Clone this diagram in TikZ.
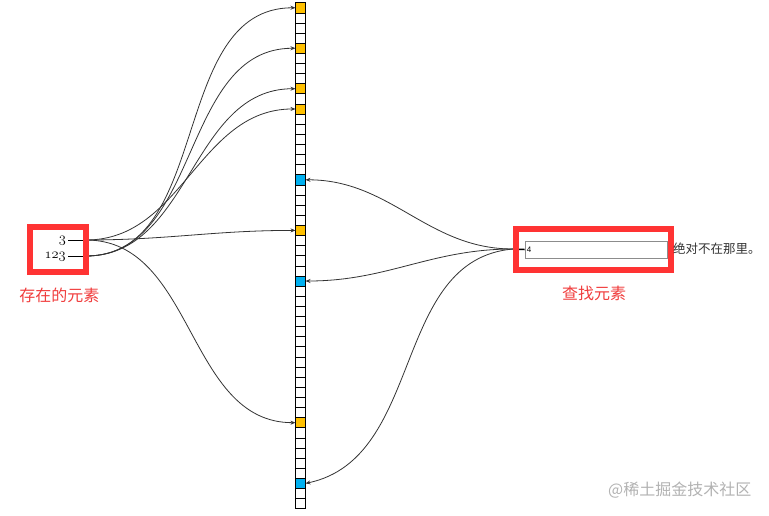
\documentclass[tikz,border=0pt]{standalone}
\usepackage{fontspec}
\newfontfamily\cjk{Noto Sans CJK SC}
\newfontfamily\sansf{Liberation Sans}
\usetikzlibrary{arrows.meta}
\definecolor{cellyellow}{HTML}{FFC000}
\definecolor{cellblue}{HTML}{00B0F0}
\definecolor{boxred}{HTML}{FF3333}
\definecolor{labelred}{HTML}{F03C3C}
\newcommand\osnum[1]{{\usefont{OML}{cmm}{m}{it}#1}}
\begin{document}
\begin{tikzpicture}[x=1pt,y=-1pt,
  cell/.style={draw=black,line width=0.6pt,minimum width=10pt,minimum height=10.12pt,inner sep=0pt,outer sep=0pt,fill=white},
  hity/.style={fill=cellyellow},
  hitb/.style={fill=cellblue},
  cellfill 0/.style={hity}, cellfill 4/.style={hity}, cellfill 8/.style={hity},
  cellfill 10/.style={hity}, cellfill 22/.style={hity}, cellfill 41/.style={hity},
  cellfill 17/.style={hitb}, cellfill 27/.style={hitb}, cellfill 47/.style={hitb},
  link/.style={draw=black!80,line width=0.8pt,-{Stealth[length=5pt,width=4pt]}},
  redbox/.style={draw=boxred,line width=6pt,inner sep=0pt},
  num/.style={anchor=east,inner sep=0pt,font=\fontsize{14}{16}\selectfont},
  redlabel/.style={text=labelred,font=\cjk\fontsize{16}{18}\selectfont,inner sep=0pt},
]
\useasboundingbox (0,0) rectangle (769,515);

% array of cells
\foreach \i in {0,...,49}{
  \pgfmathsetmacro\yy{2.7+10.12*(\i+0.5)}
  \node[cell,cellfill \i/.try] (c\i) at (300.5,\yy) {};
}

% left: existing elements
\node[num] (n3) at (66,241) {\osnum{3}};
\node[num] (n123) at (66,257) {\osnum{123}};
\coordinate (s1) at (86,240);
\coordinate (s2) at (86,256);
\draw[line width=1pt] ([xshift=2pt]n3.east |- s1) -- (s1);
\draw[line width=1pt] ([xshift=2pt]n123.east |- s2) -- (s2);

\draw[link] (s1) to[out=0,in=180] (c10.west);
\draw[link] (s1) to[out=0,in=180] (c22.west);
\draw[link] (s1) to[out=0,in=180] (c41.west);
\draw[link] (s2) to[out=0,in=180] (c0.west);
\draw[link] (s2) to[out=0,in=180] (c4.west);
\draw[link] (s2) to[out=0,in=180] (c8.west);

\node[redbox,minimum width=56pt,minimum height=45pt] (lbox) at (58,249.5) {};
\node[redlabel] (lbl1) at (59.5,295) {存在的元素};

% right: element to search
\node[draw=black!45,line width=0.8pt,minimum width=142pt,minimum height=17pt,inner sep=0pt] (inp) at (596,249.5) {};
\node[anchor=west,inner sep=0pt,font=\sansf\fontsize{8}{9}\selectfont] (four) at ([xshift=2pt]inp.west) {4};
\coordinate (t) at (513,249);
\draw[line width=1.5pt] (t) -- (inp.west);
\draw[link] (t) to[out=180,in=0] (c17.east);
\draw[link] (t) to[out=180,in=0] (c27.east);
\draw[link] (t) to[out=185,in=12] (c47.east);

\node[redbox,minimum width=155pt,minimum height=41pt] (rbox) at (593,249.5) {};
\node[anchor=west,inner sep=0pt,text=black!80,font=\cjk\fontsize{12.5}{14}\selectfont] (note) at (673,249) {绝对不在那里。};
\node[redlabel] (lbl2) at (594,293) {查找元素};

% watermark
\node[anchor=west,inner sep=0pt,text=black!30,font=\cjk\fontsize{16}{18}\selectfont] (wm) at (608,490) {@稀土掘金技术社区};
\end{tikzpicture}
\end{document}
